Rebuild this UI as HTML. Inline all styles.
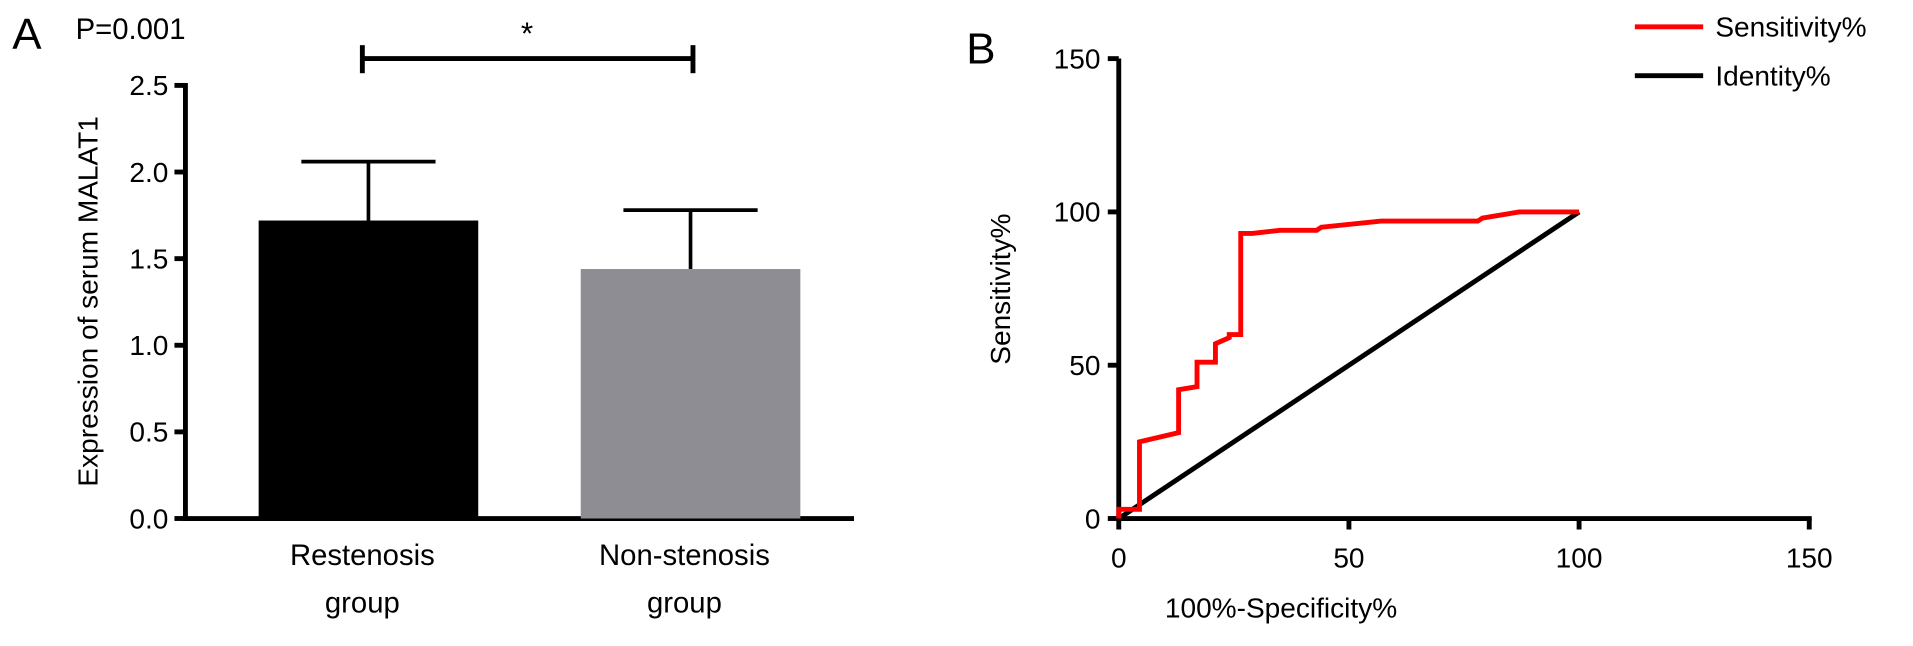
<!DOCTYPE html>
<html><head><meta charset="utf-8"><style>
body{margin:0;background:#fff;}
svg{display:block;font-family:"Liberation Sans",sans-serif;}
</style></head><body>
<svg width="1913" height="646" viewBox="0 0 1568 529.5" preserveAspectRatio="none">
<g id="a"></g>
<g id="b"></g>
</svg>
<script>
const barCategories=["Restenosis|group","Non-stenosis|group"];
const barMeans=[1.72,1.44];
const barErrors=[0.34,0.34];
const barColors=["#000","#8e8d94"];
const yTicksA=[0,0.5,1.0,1.5,2.0,2.5];
const rocFpr=[0,0,4.5,4.5,13,13,17,17,21,21,24,24,26.5,26.5,29,35,43,44,57,78,79,87,100];
const rocTpr=[0,3,3,25,28,42,43,51,51,57,59,60,60,93,93,94,94,95,97,97,98,100,100];
const identity=[0,100];
const ticksB=[0,50,100,150];
const NS="http://www.w3.org/2000/svg";
function mk(p,t,a,txt){const e=document.createElementNS(NS,t);for(const k in a)e.setAttribute(k,a[k]);if(txt!=null)e.textContent=txt;p.appendChild(e);return e;}
// Panel A
const A=document.getElementById('a');
const yA=v=>425-v*142;
const ax=152;
let t=mk(A,'text',{x:10,y:40,'font-size':36},'A');
t=mk(A,'text',{x:62,y:32,'font-size':24},'P=0.001');
let l=mk(A,'line',{x1:ax,y1:68,x2:ax,y2:427,stroke:'#000','stroke-width':4});
l=mk(A,'line',{x1:ax-2,y1:425,x2:700,y2:425,stroke:'#000','stroke-width':4});
yTicksA.forEach(v=>{const y=yA(v);
 let tk=mk(A,'line',{x1:ax-9,y1:y,x2:ax,y2:y,stroke:'#000','stroke-width':4});
 let tl=mk(A,'text',{x:ax-14,y:y+8,'font-size':23,'text-anchor':'end'},v.toFixed(1));});
t=mk(A,'text',{x:0,y:0,'font-size':23,'text-anchor':'middle',transform:'translate(80,247) rotate(-90)'},'Expression of serum MALAT1');
const centers=[302,566],bw=180;
barCategories.forEach((c,i)=>{const cx=centers[i];
 let eb=mk(A,'line',{x1:cx,y1:yA(barMeans[i]),x2:cx,y2:yA(barMeans[i]+barErrors[i]),stroke:'#000','stroke-width':3});
 eb=mk(A,'line',{x1:cx-55,y1:yA(barMeans[i]+barErrors[i]),x2:cx+55,y2:yA(barMeans[i]+barErrors[i]),stroke:'#000','stroke-width':3});
 let r=mk(A,'rect',{x:cx-bw/2,y:yA(barMeans[i]),width:bw,height:425-yA(barMeans[i]),fill:barColors[i]});
 const p=c.split('|');
 let x1=mk(A,'text',{x:cx-5,y:463,'font-size':24,'text-anchor':'middle'},p[0]);
 x1=mk(A,'text',{x:cx-5,y:502,'font-size':24,'text-anchor':'middle'},p[1]);});
l=mk(A,'line',{x1:297,y1:48,x2:568,y2:48,stroke:'#000','stroke-width':4});
[297,568].forEach(x=>{let c=mk(A,'line',{x1:x,y1:37,x2:x,y2:60,stroke:'#000','stroke-width':4});});
t=mk(A,'text',{x:432,y:36,'font-size':26,'text-anchor':'middle'},'*');
// Panel B
const B=document.getElementById('b');
const xB=v=>917+v*3.773, yB=v=>425-v*2.513;
t=mk(B,'text',{x:792,y:52,'font-size':36},'B');
l=mk(B,'line',{x1:917,y1:48,x2:917,y2:427,stroke:'#000','stroke-width':4});
l=mk(B,'line',{x1:915,y1:425,x2:1485,y2:425,stroke:'#000','stroke-width':4});
ticksB.forEach(v=>{
 let tk=mk(B,'line',{x1:908,y1:yB(v),x2:917,y2:yB(v),stroke:'#000','stroke-width':4});
 let tl=mk(B,'text',{x:902,y:yB(v)+8,'font-size':23,'text-anchor':'end'},v);
 tk=mk(B,'line',{x1:xB(v),y1:425,x2:xB(v),y2:434,stroke:'#000','stroke-width':4});
 tl=mk(B,'text',{x:xB(v),y:465,'font-size':23,'text-anchor':'middle'},v);});
t=mk(B,'text',{x:0,y:0,'font-size':23,'text-anchor':'middle',transform:'translate(828,237) rotate(-90)'},'Sensitivity%');
t=mk(B,'text',{x:1050,y:506,'font-size':23,'text-anchor':'middle'},'100%-Specificity%');
let p=mk(B,'polyline',{points:identity.map(v=>xB(v)+','+yB(v)).join(' '),fill:'none',stroke:'#000','stroke-width':4});
p=mk(B,'polyline',{points:rocFpr.map((v,i)=>xB(v)+','+yB(rocTpr[i])).join(' '),fill:'none',stroke:'#f00','stroke-width':4});
l=mk(B,'line',{x1:1340,y1:22,x2:1396,y2:22,stroke:'#f00','stroke-width':4});
t=mk(B,'text',{x:1406,y:30,'font-size':23},'Sensitivity%');
l=mk(B,'line',{x1:1340,y1:62,x2:1396,y2:62,stroke:'#000','stroke-width':4});
t=mk(B,'text',{x:1406,y:70,'font-size':23},'Identity%');
</script>
</body></html>
